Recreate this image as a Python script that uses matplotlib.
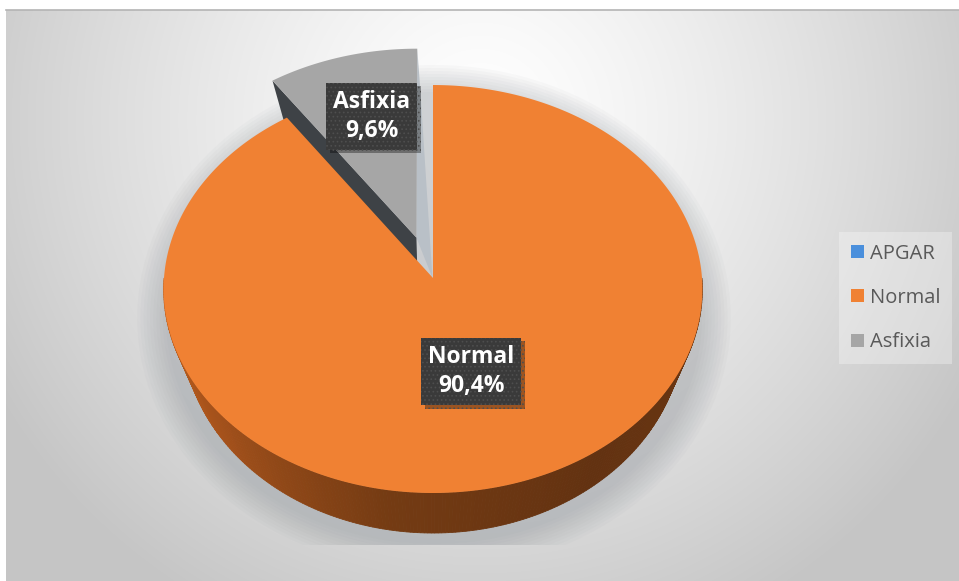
import numpy as np
import matplotlib.pyplot as plt
from matplotlib.patches import Polygon, Ellipse, Patch, Rectangle
from matplotlib.colors import LinearSegmentedColormap
from matplotlib import patheffects as pe

# data
categories = ['APGAR', 'Normal', 'Asfixia']
values = [0.0, 90.4, 9.6]

# style
top_colors = ['#4a8fdc', '#f08133', '#a6a6a6']
explode = [0.0, 0.0, 0.21]
label_radius = [0.5, 0.47, 0.66]

W, H = 959, 581
CX, CY = 433, 278              # pie centre in pixels
SX, SY, K = 269, 203.4, 0.054  # radii and perspective factor
DEPTH = 40

side_cmap = LinearSegmentedColormap.from_list(
    'side', [(0.0, '#c8651f'), (0.2, '#a6521b'), (0.45, '#743b13'),
             (0.7, '#633211'), (1.0, '#6c3712')])


def project(u, v):
    # simple perspective projection of the unit disk onto the screen
    w = 1 + K * v
    return CX + SX * u / w, CY - SY * v / w


def drop(x, y):
    # point on the bottom face under a top face point
    return x + (CX - x) * 0.07, y + DEPTH


def arc(a0, a1, du=0.0, dv=0.0, n=200):
    t = np.radians(np.linspace(a0, a1, n))
    return [project(du + np.cos(a), dv + np.sin(a)) for a in t]


plt.rcParams['hatch.linewidth'] = 0.7
fig = plt.figure(figsize=(W / 100, H / 100), dpi=100)
ax = fig.add_axes([0, 0, 1, 1])
ax.set_xlim(0, W)
ax.set_ylim(H, 0)
ax.axis('off')

# background gradient of the chart area
yy, xx = np.mgrid[10:H, 6:W]
d = np.sqrt(((xx - 480) / 560.0) ** 2 + ((yy - 120) / 560.0) ** 2)
g = (255 - 58 * np.clip(d, 0, 1) ** 1.3) / 255.0
ax.imshow(np.dstack([g, g, g]), extent=[6, W, H, 10], zorder=0, aspect='auto')
ax.plot([6, W], [10, 10], color='#b4b4b4', lw=1.2, zorder=1)

# soft shadow around the pie
clip = Rectangle((0, 0), W, 545, transform=ax.transData)
for i in range(10):
    sh = Ellipse((CX + 1, 318), 2 * (268 + 3.2 * i), 2 * (226 + 3.0 * i),
                 color='#8a9096', alpha=0.045, lw=0, zorder=1)
    ax.add_patch(sh)
    sh.set_clip_path(clip)

# slice angles, clockwise from 12 o'clock
total = sum(values)
spans = []
start = 90.0
for val in values:
    sweep = 360.0 * val / total
    spans.append((start - sweep, start))
    start -= sweep

offsets = []
for (a0, a1), e in zip(spans, explode):
    mid = np.radians((a0 + a1) / 2)
    offsets.append((e * np.cos(mid), e * np.sin(mid)))

# exploded slice: its cut faces first, then its top
for i, val in enumerate(values):
    if val == 0 or explode[i] == 0:
        continue
    a0, a1 = spans[i]
    du, dv = offsets[i]
    vx, vy = project(du, dv)
    # a0 is the 12 o'clock edge, a1 the upper-left edge
    tx, ty = project(du + np.cos(np.radians(a0)), dv + np.sin(np.radians(a0)))
    lx, ly = project(du + np.cos(np.radians(a1)), dv + np.sin(np.radians(a1)))
    ax.add_patch(Polygon([(tx, ty), (vx, vy), (vx + 16, vy + DEPTH), (tx + 3, ty + DEPTH)],
                         closed=True, fc='#b9c0c7', ec='none', zorder=2))
    ax.add_patch(Polygon([(vx, vy), (lx, ly), drop(lx, ly), drop(vx, vy)],
                         closed=True, fc='#3e4246', ec='none', zorder=2))
    ax.add_patch(Polygon([(vx, vy)] + arc(a0, a1, du, dv), closed=True,
                         fc=top_colors[i], ec='none', zorder=3))

# other slices: curved side then top
for i, val in enumerate(values):
    if val == 0 or explode[i] != 0:
        continue
    a0, a1 = spans[i]
    du, dv = offsets[i]
    for shift in (-360, 0, 360):
        lo, hi = max(a0 + shift, -180), min(a1 + shift, 0)
        if hi <= lo:
            continue
        pts = arc(lo, hi, du, dv, n=240)
        angs = np.linspace(lo, hi, 240)
        for j in range(len(pts) - 1):
            p, q = pts[j], pts[j + 1]
            c = side_cmap((angs[j] + 180) / 180.0)
            ax.add_patch(Polygon([p, q, drop(*q), drop(*p)], closed=True,
                                 fc=c, ec=c, lw=0.6, zorder=4))
    vx, vy = project(du, dv)
    ax.add_patch(Polygon([(vx, vy)] + arc(a0, a1, du, dv, n=400), closed=True,
                         fc=top_colors[i], ec='none', zorder=5))

# data labels
for i, (cat, val) in enumerate(zip(categories, values)):
    if val == 0:
        continue
    a0, a1 = spans[i]
    mid = np.radians((a0 + a1) / 2)
    du, dv = offsets[i]
    r = label_radius[i]
    x, y = project(du + r * np.cos(mid) + 0.02 * (explode[i] > 0), dv + r * np.sin(mid))
    txt = f'{cat}\n{val:.1f}%'.replace('.', ',')
    t = ax.text(x, y, txt, ha='center', va='center', color='white',
                fontsize=16.5, fontweight='bold', family='Open Sans',
                linespacing=1.3, zorder=8,
                bbox=dict(boxstyle='square,pad=0.3', fc='#3a3a3a',
                          ec='#4e4e4e', lw=0, hatch='....'))
    t.get_bbox_patch().set_path_effects(
        [pe.SimplePatchShadow(offset=(2.5, -2.5), shadow_rgbFace='black', alpha=0.35),
         pe.Normal()])

# legend
handles = [Patch(facecolor=c, edgecolor='none') for c in top_colors]
leg = ax.legend(handles, categories, loc='center left',
                bbox_to_anchor=(829 / W, 1 - 298 / H),
                prop={'family': 'Open Sans', 'size': 14.5}, labelcolor='#595959',
                handlelength=0.62, handleheight=0.62, handletextpad=0.3,
                labelspacing=1.2, borderpad=0.6, fancybox=False, frameon=True)
leg.get_frame().set_facecolor('white')
leg.get_frame().set_alpha(0.3)
leg.get_frame().set_edgecolor('none')

fig.savefig('out.png', dpi=100)
